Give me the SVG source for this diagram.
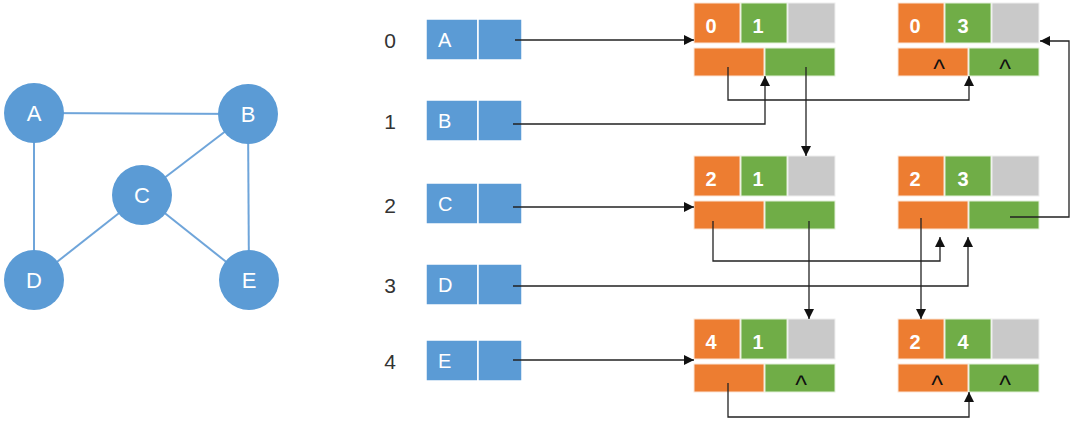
<svg xmlns="http://www.w3.org/2000/svg" width="1082" height="427" viewBox="0 0 1082 427">
<style>
.edge{stroke:#6fa5da;stroke-width:2;fill:none}
.vc{fill:#5b9bd5}
.vl{fill:#fff;font-family:"Liberation Sans",Arial,sans-serif;font-size:22px;text-anchor:middle}
.idx{fill:#333;font-family:"Liberation Sans",Arial,sans-serif;font-size:21px;text-anchor:middle}
.box{fill:#5b9bd5;stroke:#fff;stroke-width:1.5}
.bl{fill:#fff;font-family:"Liberation Sans",Arial,sans-serif;font-size:20px}
.o{fill:#ed7d31;stroke:#fbe5d6;stroke-width:1}
.g{fill:#70ad47;stroke:#e2f0d9;stroke-width:1}
.n{fill:#c9c9c9;stroke:#eee;stroke-width:1}
.d{fill:#fff;font-family:"Liberation Sans",Arial,sans-serif;font-size:20px;font-weight:bold;text-anchor:middle}
.c{fill:#111;font-family:"Liberation Sans",Arial,sans-serif;font-size:25px;text-anchor:middle}
.ln{stroke:#222;stroke-width:1.3;fill:none;marker-end:url(#ah)}
</style>
<defs>
<marker id="ah" viewBox="0 0 10 10" refX="10" refY="5" markerWidth="10" markerHeight="10" markerUnits="userSpaceOnUse" orient="auto">
<path d="M0,0 L10,5 L0,10 z" fill="#111"/>
</marker>
</defs>
<g id="graph-edges">
<line class="edge" x1="34" y1="113" x2="248" y2="114"/>
<line class="edge" x1="34" y1="113" x2="34" y2="280"/>
<line class="edge" x1="248" y1="114" x2="142" y2="195"/>
<line class="edge" x1="248" y1="114" x2="249" y2="280"/>
<line class="edge" x1="142" y1="195" x2="34" y2="280"/>
<line class="edge" x1="142" y1="195" x2="249" y2="280"/>
</g>
<g id="vA"><circle class="vc" cx="34" cy="113" r="30"/><text class="vl" x="34" y="121">A</text></g>
<g id="vB"><circle class="vc" cx="248" cy="114" r="30"/><text class="vl" x="248" y="122">B</text></g>
<g id="vC"><circle class="vc" cx="142" cy="195" r="30"/><text class="vl" x="142" y="203">C</text></g>
<g id="vD"><circle class="vc" cx="34" cy="280" r="30"/><text class="vl" x="34" y="288">D</text></g>
<g id="vE"><circle class="vc" cx="249" cy="280" r="30"/><text class="vl" x="249" y="288">E</text></g>

<g id="row0"><text class="idx" x="390" y="48">0</text><rect class="box" x="426" y="19" width="52" height="41"/><rect class="box" x="478" y="19" width="44" height="41"/><text class="bl" x="438" y="47">A</text></g>
<g id="row1"><text class="idx" x="390" y="129">1</text><rect class="box" x="426" y="100" width="52" height="41"/><rect class="box" x="478" y="100" width="44" height="41"/><text class="bl" x="438" y="128">B</text></g>
<g id="row2"><text class="idx" x="390" y="213">2</text><rect class="box" x="426" y="183" width="52" height="41"/><rect class="box" x="478" y="183" width="44" height="41"/><text class="bl" x="438" y="211">C</text></g>
<g id="row3"><text class="idx" x="390" y="293">3</text><rect class="box" x="426" y="264" width="52" height="41"/><rect class="box" x="478" y="264" width="44" height="41"/><text class="bl" x="438" y="292">D</text></g>
<g id="row4"><text class="idx" x="390" y="369">4</text><rect class="box" x="426" y="340" width="52" height="41"/><rect class="box" x="478" y="340" width="44" height="41"/><text class="bl" x="438" y="368">E</text></g>

<g id="e01">
<rect class="o" x="694" y="3" width="46" height="40"/><rect class="g" x="741" y="3" width="46" height="40"/><rect class="n" x="788" y="3" width="47" height="40"/>
<rect class="o" x="694" y="48" width="70" height="28"/><rect class="g" x="765" y="48" width="70" height="28"/>
<text class="d" x="711" y="33">0</text><text class="d" x="758" y="33">1</text>
</g>
<g id="e03">
<rect class="o" x="898" y="3" width="46" height="40"/><rect class="g" x="945" y="3" width="46" height="40"/><rect class="n" x="992" y="3" width="47" height="40"/>
<rect class="o" x="898" y="48" width="70" height="28"/><rect class="g" x="969" y="48" width="70" height="28"/>
<text class="d" x="915" y="33">0</text><text class="d" x="963" y="33">3</text>
<text class="c" x="939" y="78">^</text><text class="c" x="1005" y="78">^</text>
</g>
<g id="e21">
<rect class="o" x="694" y="156" width="46" height="40"/><rect class="g" x="741" y="156" width="46" height="40"/><rect class="n" x="788" y="156" width="47" height="40"/>
<rect class="o" x="694" y="201" width="70" height="28"/><rect class="g" x="765" y="201" width="70" height="28"/>
<text class="d" x="711" y="186">2</text><text class="d" x="758" y="186">1</text>
</g>
<g id="e23">
<rect class="o" x="898" y="156" width="46" height="40"/><rect class="g" x="945" y="156" width="46" height="40"/><rect class="n" x="992" y="156" width="47" height="40"/>
<rect class="o" x="898" y="201" width="70" height="28"/><rect class="g" x="969" y="201" width="70" height="28"/>
<text class="d" x="915" y="186">2</text><text class="d" x="963" y="186">3</text>
</g>
<g id="e41">
<rect class="o" x="694" y="319" width="46" height="40"/><rect class="g" x="741" y="319" width="46" height="40"/><rect class="n" x="788" y="319" width="47" height="40"/>
<rect class="o" x="694" y="364" width="70" height="28"/><rect class="g" x="765" y="364" width="70" height="28"/>
<text class="d" x="711" y="349">4</text><text class="d" x="758" y="349">1</text>
<text class="c" x="801" y="394">^</text>
</g>
<g id="e24">
<rect class="o" x="898" y="319" width="46" height="40"/><rect class="g" x="945" y="319" width="46" height="40"/><rect class="n" x="992" y="319" width="47" height="40"/>
<rect class="o" x="898" y="364" width="70" height="28"/><rect class="g" x="969" y="364" width="70" height="28"/>
<text class="d" x="915" y="349">2</text><text class="d" x="963" y="349">4</text>
<text class="c" x="937" y="394">^</text><text class="c" x="1005" y="394">^</text>
</g>

<g id="connectors">
<path class="ln" d="M515,40 H694"/>
<path class="ln" d="M513,124 H765 V76"/>
<path class="ln" d="M728,67 V100 H969 V76"/>
<path class="ln" d="M806,67 V156"/>
<path class="ln" d="M513,207 H694"/>
<path class="ln" d="M713,221 V261 H940 V237"/>
<path class="ln" d="M513,286 H968 V237"/>
<path class="ln" d="M809,221 V319"/>
<path class="ln" d="M921,218 V319"/>
<path class="ln" d="M1010,217 H1069 V41 H1040"/>
<path class="ln" d="M513,360 H694"/>
<path class="ln" d="M728,383 V417 H969 V392"/>
</g>
</svg>
